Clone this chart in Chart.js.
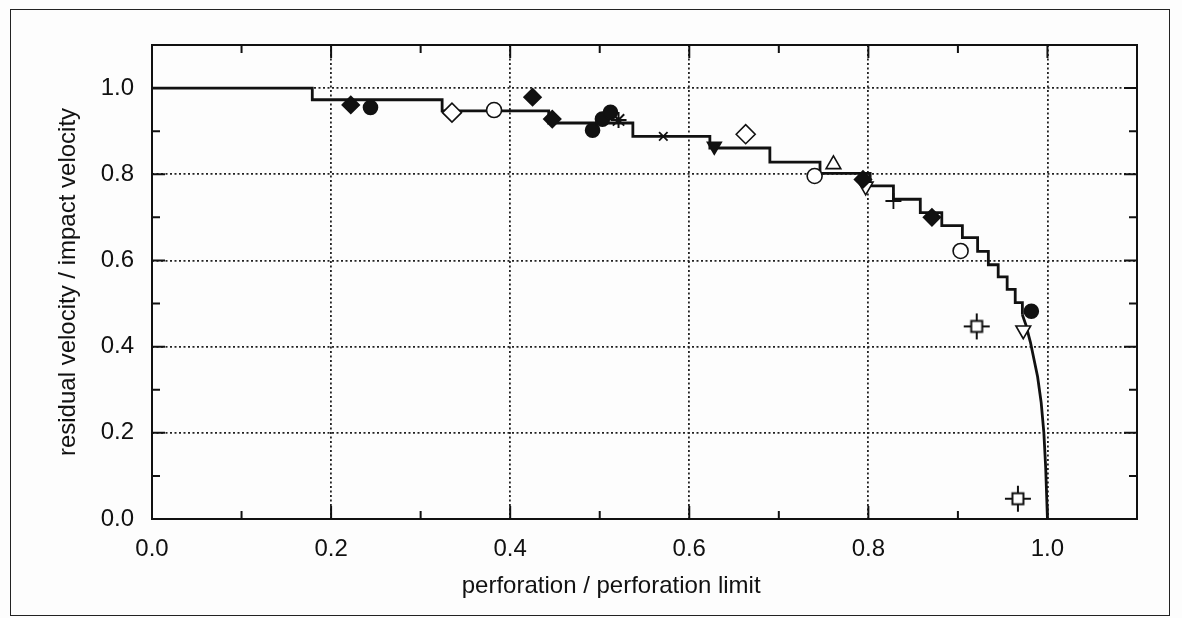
<!DOCTYPE html>
<html lang="en">
<head>
  <meta charset="UTF-8" />
  <title>Residual velocity vs perforation</title>
  <script src="https://cdn.jsdelivr.net/npm/chart.js"></script>
  <style>
    body {
      margin: 0;
      background: #fdfdfd;
    }

    .frame {
      position: absolute;
      left: 10px;
      top: 9px;
      width: 1158px;
      height: 605px;
      border: 1.5px solid #222;
    }

    .wrap {
      position: absolute;
      left: 0;
      top: 0;
      width: 1182px;
      height: 618px;
    }
  </style>
</head>
<body>
  <div class="frame"></div>
  <div class="wrap">
    <canvas id="chart" width="1182" height="618"></canvas>
  </div>

  <script>
    // step curve: each level starts at stepX[i]
    const stepX = [0, 0.179, 0.324, 0.443, 0.537, 0.623, 0.690, 0.746, 0.802, 0.828, 0.858, 0.882, 0.905, 0.922, 0.934, 0.945, 0.955, 0.964, 0.972];
    const stepY = [1.0, 0.973, 0.947, 0.919, 0.888, 0.861, 0.828, 0.802, 0.773, 0.742, 0.711, 0.681, 0.653, 0.621, 0.590, 0.562, 0.533, 0.502, 0.474];

    // tail of the curve near the perforation limit
    const tailX = [0.972, 0.976, 0.981, 0.985, 0.989, 0.993, 0.996, 0.998, 1.0];
    const tailY = [0.474, 0.450, 0.410, 0.370, 0.330, 0.270, 0.200, 0.120, 0.0];

    // measured points by symbol
    const filledDiamondX = [0.222, 0.425, 0.447, 0.794, 0.871];
    const filledDiamondY = [0.961, 0.979, 0.928, 0.788, 0.700];
    const filledCircleX = [0.244, 0.492, 0.503, 0.512, 0.982];
    const filledCircleY = [0.955, 0.902, 0.928, 0.944, 0.482];
    const openDiamondX = [0.335, 0.663];
    const openDiamondY = [0.943, 0.893];
    const openCircleX = [0.382, 0.740, 0.903];
    const openCircleY = [0.949, 0.796, 0.622];
    const openTriUpX = [0.761];
    const openTriUpY = [0.823];
    const openTriDownX = [0.797, 0.973];
    const openTriDownY = [0.772, 0.438];
    const filledTriDownX = [0.628];
    const filledTriDownY = [0.865];
    const starX = [0.521];
    const starY = [0.926];
    const crossX = [0.571];
    const crossY = [0.888];
    const plusX = [0.828];
    const plusY = [0.738];
    const squareCrossX = [0.921, 0.967];
    const squareCrossY = [0.447, 0.047];

    const xTicks = ['0.0', '0.2', '0.4', '0.6', '0.8', '1.0'];
    const yTicks = ['0.0', '0.2', '0.4', '0.6', '0.8', '1.0'];

    const pts = (xs, ys) => xs.map((x, i) => ({ x, y: ys[i] }));
    const isMajor = v => Math.round(v * 10) % 2 === 0;
    const tenth = v => Math.round(v * 10);

    // square with crosshair arms
    function squareCrossImg() {
      const c = document.createElement('canvas');
      c.width = 28; c.height = 28;
      const g = c.getContext('2d');
      g.strokeStyle = '#111';
      g.lineWidth = 2;
      g.fillStyle = '#fff';
      g.fillRect(8.5, 8.5, 11, 11);
      g.strokeRect(8.5, 8.5, 11, 11);
      g.beginPath();
      g.moveTo(14, 1); g.lineTo(14, 8.5);
      g.moveTo(14, 19.5); g.lineTo(14, 27);
      g.moveTo(1, 14); g.lineTo(8.5, 14);
      g.moveTo(19.5, 14); g.lineTo(27, 14);
      g.stroke();
      return c;
    }

    function marker(xs, ys, style, radius, filled, extra) {
      return Object.assign({
        data: pts(xs, ys),
        pointStyle: style,
        pointRadius: radius,
        pointBackgroundColor: filled ? '#111' : '#fff',
        pointBorderColor: '#111',
        pointBorderWidth: 1.6,
        showLine: false,
        order: 1
      }, extra || {});
    }

    const frameTicks = {
      id: 'frameTicks',
      afterDraw(chart) {
        const { ctx, chartArea: a, scales: { x, y } } = chart;
        ctx.save();
        ctx.strokeStyle = '#111';
        ctx.lineWidth = 2;
        ctx.strokeRect(a.left, a.top, a.right - a.left, a.bottom - a.top);
        ctx.beginPath();
        x.ticks.forEach(t => {
          const px = x.getPixelForValue(t.value);
          const len = isMajor(t.value) ? 13 : 8;
          ctx.moveTo(px, a.bottom); ctx.lineTo(px, a.bottom - len);
          ctx.moveTo(px, a.top); ctx.lineTo(px, a.top + len);
        });
        y.ticks.forEach(t => {
          const py = y.getPixelForValue(t.value);
          const len = isMajor(t.value) ? 13 : 8;
          ctx.moveTo(a.left, py); ctx.lineTo(a.left + len, py);
          ctx.moveTo(a.right, py); ctx.lineTo(a.right - len, py);
        });
        ctx.stroke();
        ctx.restore();
      }
    };

    const font = { family: "'Liberation Sans', Arial, sans-serif", size: 24 };

    const gridColor = ctx => {
      const v = tenth(ctx.tick.value);
      return (v % 2 === 0 && v >= 2 && v <= 10) ? '#222' : 'rgba(0,0,0,0)';
    };

    new Chart(document.getElementById('chart'), {
      type: 'scatter',
      data: {
        datasets: [
          {
            data: pts(stepX, stepY),
            showLine: true,
            stepped: true,
            borderColor: '#111',
            borderWidth: 2.8,
            pointRadius: 0,
            order: 5
          },
          {
            data: pts(tailX, tailY),
            showLine: true,
            borderColor: '#111',
            borderWidth: 2.8,
            pointRadius: 0,
            order: 5
          },
          marker(filledDiamondX, filledDiamondY, 'rectRot', 8.5, true),
          marker(filledCircleX, filledCircleY, 'circle', 7, true),
          marker(openDiamondX, openDiamondY, 'rectRot', 9.5, false),
          marker(openCircleX, openCircleY, 'circle', 7.5, false),
          marker(openTriUpX, openTriUpY, 'triangle', 8.5, false),
          marker(openTriDownX, openTriDownY, 'triangle', 8.5, false, { pointRotation: 180 }),
          marker(filledTriDownX, filledTriDownY, 'triangle', 8, true, { pointRotation: 180 }),
          marker(starX, starY, 'star', 8, false, { pointBorderWidth: 2 }),
          marker(crossX, crossY, 'crossRot', 6, false, { pointBorderWidth: 1.8 }),
          marker(plusX, plusY, 'cross', 8, false, { pointBorderWidth: 1.8 }),
          marker(squareCrossX, squareCrossY, squareCrossImg(), 13, false)
        ]
      },
      options: {
        responsive: false,
        animation: false,
        devicePixelRatio: 1,
        layout: { padding: { left: 0, top: 45, right: 45, bottom: 0 } },
        plugins: {
          legend: { display: false },
          tooltip: { enabled: false }
        },
        scales: {
          x: {
            type: 'linear',
            min: 0,
            max: 1.1,
            afterFit: s => { s.height = 99; },
            border: { display: false, dash: [2, 2.5] },
            grid: { color: gridColor, lineWidth: 1.8, drawTicks: false },
            ticks: {
              stepSize: 0.1,
              padding: 16,
              color: '#111',
              font,
              maxRotation: 0,
              autoSkip: false,
              callback: v => {
                const t = tenth(v);
                return (t % 2 === 0 && t <= 10) ? xTicks[t / 2] : '';
              }
            },
            title: {
              display: true,
              // trailing spaces nudge the centred title left, as in the original
              text: 'perforation / perforation limit          ',
              color: '#111',
              font,
              padding: { top: 0, bottom: 17 }
            }
          },
          y: {
            type: 'linear',
            min: 0,
            max: 1.1,
            afterFit: s => { s.width = 152; },
            border: { display: false, dash: [2, 2.5] },
            grid: { color: gridColor, lineWidth: 1.8, drawTicks: false },
            ticks: {
              stepSize: 0.1,
              padding: 18,
              color: '#111',
              font,
              autoSkip: false,
              callback: v => {
                const t = tenth(v);
                return (t % 2 === 0 && t <= 10) ? yTicks[t / 2] : '';
              }
            },
            title: {
              display: true,
              text: 'residual velocity / impact velocity',
              color: '#111',
              font,
              padding: { top: 54, bottom: 0 }
            }
          }
        }
      },
      plugins: [frameTicks]
    });
  </script>
</body>
</html>
